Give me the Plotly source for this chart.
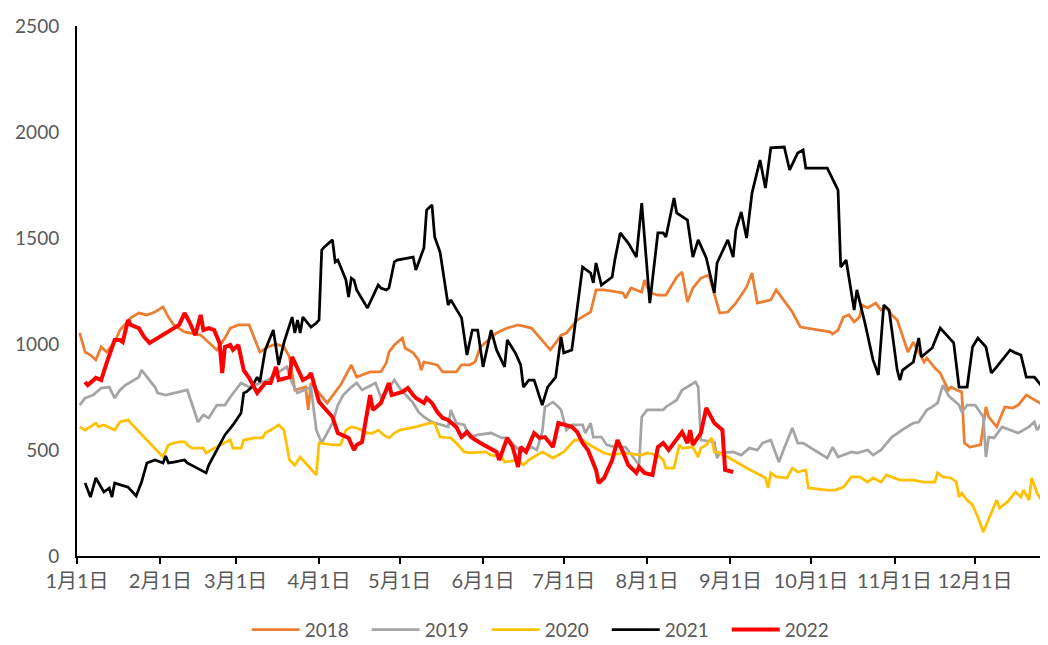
import plotly.graph_objects as go
import pandas as pd

# ---- data: day offset from Jan 1 and value, per year ----
D18 = [1,3,5,7,9,11,14,16,20,23,26,29,32,34,36,40,46,49,52,55,57,60,64,68,71,74,77,79,81,85,
       86,87,90,93,98,102,104,109,113,115,116,118,121,122,125,127,128,129,134,136,141,142,143,146,148,150,153,156,160,164,
       169,172,176,178,180,182,184,186,191,193,196,203,204,206,210,211,213,216,219,223,225,227,229,232,235,237,239,242,245,249,
       251,253,255,258,260,264,266,269,275,280,281,283,285,287,289,291,292,294,297,299,301,303,305,309,311,315,316,319,321,324,
       325,327,329,330,332,336,338,339,342,345,348,350,353,358,361]
V18 = [1052,962,948,925,986,962,1009,1066,1123,1146,1137,1151,1175,1127,1090,1057,1042,1009,972,1028,
       1075,1090,1090,962,986,1000,986,939,783,797,689,816,769,722,806,901,844,868,868,910,
       962,995,1028,981,958,925,877,915,901,868,868,887,901,901,915,986,1019,1052,1075,1090,
       1075,1033,972,1005,1042,1052,1080,1113,1151,1255,1255,1241,1217,1264,1245,1302,1241,1231,1231,1316,
       1340,1198,1264,1311,1325,1241,1146,1151,1193,1269,1335,1193,1198,1208,1255,1184,1151,1080,1066,1057,
       1047,1066,1127,1137,1104,1127,1184,1170,1193,1160,1170,1137,1113,962,1009,915,934,887,863,783,
       797,783,774,533,514,524,703,656,609,703,698,712,759,722,712]

D19 = [1,3,6,9,12,14,16,18,20,23,24,26,29,30,33,41,43,45,47,49,52,55,57,61,64,68,71,75,78,80,
       82,87,89,91,95,97,99,102,104,106,111,113,115,118,120,123,125,127,129,132,136,138,139,141,144,146,149,154,158,160,
       165,169,171,173,174,177,179,180,182,184,188,189,191,192,195,197,200,204,209,210,212,214,218,219,223,225,230,231,232,237,
       238,239,244,247,250,253,255,258,261,263,266,268,270,276,279,281,283,288,290,294,296,299,301,303,308,311,313,316,318,320,
       322,324,325,328,329,331,334,337,338,339,341,344,350,354,356,357,359,361]
V19 = [712,745,759,792,797,745,783,806,821,844,877,844,797,769,759,783,712,632,665,651,
       712,712,750,816,797,816,830,868,892,816,769,797,594,533,627,712,759,797,816,783,
       816,750,774,830,792,750,722,679,656,632,618,609,689,627,618,561,571,580,557,557,
       491,514,500,585,703,726,703,689,594,618,618,580,627,561,561,524,514,514,429,656,
       689,689,689,703,736,783,821,797,547,538,462,486,491,476,509,500,533,547,443,509,
       604,533,533,486,462,514,467,491,486,500,476,500,533,561,604,627,632,689,703,722,
       806,759,745,712,679,712,712,656,467,561,557,609,580,609,632,594,632,632]

D20 = [1,3,7,8,10,14,16,19,20,32,34,36,38,40,42,43,47,48,51,55,57,58,61,62,66,69,70,72,75,77,
       79,81,83,89,90,95,98,100,102,104,108,110,112,114,116,118,120,124,126,131,133,135,139,141,144,146,152,154,158,159,
       164,166,168,171,173,177,181,184,185,188,192,196,199,203,210,212,216,218,219,222,224,225,229,231,232,234,236,237,238,242,
       247,249,254,256,257,258,260,264,266,268,271,272,279,282,285,288,291,294,296,299,301,303,306,311,315,319,320,322,325,327,
       328,329,331,333,335,337,339,342,343,346,349,351,352,354,355,357,359,361]
V20 = [609,594,627,609,618,594,632,642,627,467,524,533,538,538,514,509,509,486,509,533,
       547,509,509,547,557,557,580,594,618,594,453,429,467,382,533,524,524,594,609,604,
       580,580,594,571,557,580,594,604,609,627,627,561,557,533,491,486,491,476,467,443,
       453,429,453,476,491,462,491,533,547,547,514,486,476,486,476,486,476,453,415,415,
       524,509,514,467,509,524,557,491,491,467,429,415,382,368,321,392,373,368,415,396,
       406,321,311,311,325,373,373,349,368,349,382,373,358,358,349,349,392,373,368,349,
       278,297,264,241,184,113,170,264,226,255,302,278,311,264,368,297,255,241]

D21 = [3,5,7,10,12,13,14,19,20,22,24,26,29,32,33,34,36,40,41,48,49,52,55,58,61,62,63,65,67,68,
       70,73,75,77,80,81,82,83,84,87,89,90,91,92,95,96,97,100,101,102,103,104,108,112,113,115,116,118,119,125,
       126,129,130,132,133,135,138,139,143,145,147,149,151,154,156,159,160,163,165,166,168,170,172,173,175,178,180,181,184,188,
       191,192,193,195,199,200,202,205,208,210,213,216,218,219,222,223,227,229,231,234,237,238,242,244,245,247,249,251,254,256,
       258,263,265,268,270,271,279,283,284,286,289,290,293,296,298,300,302,305,306,307,311,313,314,318,321,324,326,328,331,333,
       335,338,340,342,347,349,351,353,356,359,361]
V21 = [344,278,368,302,321,278,344,325,311,283,349,439,453,439,472,439,443,453,439,392,
       429,500,571,618,675,769,774,797,844,821,972,1066,901,1009,1127,1052,1113,1052,1127,1080,
       1099,1113,1443,1458,1491,1387,1396,1302,1222,1311,1302,1255,1170,1278,1264,1255,1264,1387,1396,1410,
       1349,1453,1632,1656,1505,1434,1184,1208,1123,948,1066,1066,892,1066,972,892,1019,958,901,797,
       830,830,750,712,797,844,1033,958,972,1363,1335,1288,1382,1278,1316,1396,1524,1476,1410,1665,
       1193,1524,1524,1505,1689,1618,1585,1410,1491,1406,1241,1382,1491,1410,1538,1623,1500,1712,1868,1736,
       1925,1929,1821,1901,1915,1830,1830,1726,1363,1396,1160,1255,1099,925,854,1184,1160,877,830,877,
       915,1028,939,981,1075,1033,1005,797,797,986,1028,986,863,892,972,958,948,844,844,797,840]

D22 = [3,4,7,9,11,14,16,17,19,20,23,25,27,30,36,38,40,42,44,46,47,49,51,53,54,55,57,58,60,62,
       64,67,70,72,74,75,79,80,84,86,87,90,92,95,97,99,101,103,104,106,109,110,113,116,117,121,123,125,126,129,
       130,132,134,136,138,141,143,145,147,150,153,156,157,160,162,164,165,167,170,172,174,177,179,184,186,188,190,193,194,196,
       199,201,203,205,208,209,211,214,216,218,220,222,225,227,228,229,232,234,237,240,241,244]
V22 = [821,806,840,830,910,1019,1019,1009,1113,1090,1075,1033,1005,1028,1075,1090,1146,1099,1042,1137,
       1066,1075,1066,1005,863,986,995,972,995,877,840,769,816,816,892,830,844,939,830,844,
       863,727,698,656,580,571,557,500,524,538,759,689,722,816,759,774,792,759,745,722,
       745,722,679,651,642,609,561,585,557,533,514,491,453,557,514,420,514,491,580,557,
       561,514,627,609,585,533,500,406,344,368,453,547,491,429,392,420,392,382,514,533,
       500,533,585,533,594,524,580,698,627,594,406,396]

YEARS = ["2018", "2019", "2020", "2021", "2022"]
COLORS = ["#ED7D31", "#A5A5A5", "#FFC000", "#000000", "#FF0000"]
WIDTHS = [2.75, 2.75, 2.75, 2.75, 4]
MONTH_LABELS = [f"{m}月1日" for m in range(1, 13)]
Y_TICKS = [0, 500, 1000, 1500, 2000, 2500]

BASE = pd.Timestamp("2021-01-01")


def to_dates(days):
    return [BASE + pd.Timedelta(days=d) for d in days]


fig = go.Figure()
for name, d, v, c, w in zip(YEARS, [D18, D19, D20, D21, D22], [V18, V19, V20, V21, V22], COLORS, WIDTHS):
    assert len(d) == len(v), (name, len(d), len(v))
    fig.add_trace(go.Scatter(x=to_dates(d), y=v, mode="lines", name=name,
                             line=dict(color=c, width=w)))

month_starts = [pd.Timestamp(f"2021-{m:02d}-01") for m in range(1, 13)]
font_family = "Lato, 'Noto Sans CJK SC', sans-serif"

# the page body has an 8px margin, so the figure is drawn 8px in from the top-left
fig.update_layout(
    width=1040, height=637, autosize=False,
    paper_bgcolor="white", plot_bgcolor="white",
    margin=dict(l=69, r=1, t=18, b=89, autoexpand=False),
    font=dict(family=font_family, size=19, color="#595959"),
    showlegend=True,
    legend=dict(orientation="h", xref="container", yref="container",
                x=0.518, xanchor="center", y=0.024, yanchor="middle",
                font=dict(size=19, color="#595959"),
                itemwidth=48, entrywidth=57, entrywidthmode="pixels", tracegroupgap=0),
    xaxis=dict(type="date", range=[BASE, BASE + pd.Timedelta(hours=360.7 * 24)],
               tickvals=month_starts, ticktext=MONTH_LABELS,
               ticks="outside", ticklen=6, tickwidth=2, tickcolor="black",
               showline=True, linecolor="black", linewidth=2,
               showgrid=False, zeroline=False, automargin=False,
               tickfont=dict(size=20, color="#595959")),
    yaxis=dict(range=[0, 2500], tickvals=Y_TICKS, ticks="",
               showline=True, linecolor="black", linewidth=2,
               showgrid=False, zeroline=False, ticklabelstandoff=12, automargin=False,
               tickfont=dict(size=19, color="#595959")),
)

fig.write_html("out.html")
